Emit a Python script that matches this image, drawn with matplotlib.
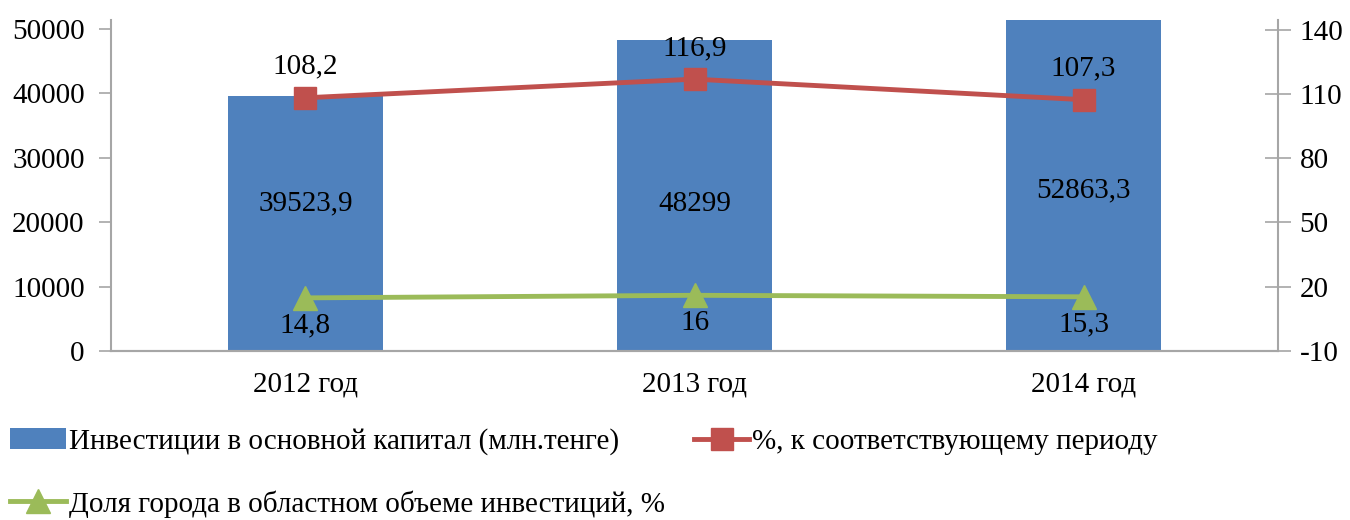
import matplotlib.pyplot as plt
import numpy as np

plt.rcParams['font.family'] = ['Liberation Serif', 'DejaVu Serif']
plt.rcParams['axes.unicode_minus'] = False

# data
years = ["2012 год", "2013 год", "2014 год"]
invest = [39523.9, 48299, 52863.3]
invest_lbl = ["39523,9", "48299", "52863,3"]
pct_period = [108.2, 116.9, 107.3]
pct_period_lbl = ["108,2", "116,9", "107,3"]
share = [14.8, 16, 15.3]
share_lbl = ["14,8", "16", "15,3"]

blue = "#4F81BD"
red = "#C0504D"
green = "#9BBB59"
grey = "#A6A6A6"

fig = plt.figure(figsize=(13.5, 5.2), dpi=100)
ax = fig.add_axes([0.0822, 0.325, 0.8645, 0.6365])
ax2 = ax.twinx()

x = np.arange(len(years))
bars = ax.bar(x, invest, width=0.4, color=blue, zorder=1,
              label="Инвестиции в основной капитал (млн.тенге)")
ax.set_xlim(-0.5, 2.5)
ax.set_ylim(0, 51400)
ax.set_yticks([0, 10000, 20000, 30000, 40000, 50000])

l1, = ax2.plot(x, pct_period, color=red, lw=3.5, marker="s", ms=16,
               label="%, к соответствующему периоду")
l2, = ax2.plot(x, share, color=green, lw=3.5, marker="^", ms=17,
               label="Доля города в областном объеме инвестиций, %")
ax2.set_ylim(-10, 144.5)
ax2.set_yticks([-10, 20, 50, 80, 110, 140])

# labels (offsets)
bar_lbl_y = [23000, 22800, 25000]
for i in range(3):
    ax.text(x[i], bar_lbl_y[i], invest_lbl[i], ha="center", va="center", fontsize=21)
    ax2.text(x[i], pct_period[i] + 14.5, pct_period_lbl[i], ha="center", va="center", fontsize=21)
    ax2.text(x[i], share[i] - 12.7, share_lbl[i], ha="center", va="center", fontsize=21)

for a in (ax, ax2):
    a.spines["top"].set_visible(False)
    for s in ("left", "right", "bottom"):
        a.spines[s].set_color(grey)
        a.spines[s].set_linewidth(1.5)
ax.spines["right"].set_visible(False)
ax2.spines["left"].set_visible(False)

ax.set_xticks(x)
ax.set_xticklabels(years)
ax.tick_params(axis="x", length=0, pad=15, labelsize=21)
ax.tick_params(axis="y", labelsize=21, color=grey, length=9, width=1.2, pad=10)
ax2.tick_params(axis="y", labelsize=21, color=grey, direction="inout", length=19, width=1.2, pad=6)

fig.legend(handles=[bars, l2, l1], loc="lower left", bbox_to_anchor=(-0.001, -0.018),
           ncol=2, frameon=False, fontsize=21, handlelength=1.9, handletextpad=0.1,
           columnspacing=1.0, labelspacing=1.2, borderaxespad=0)

fig.savefig("out.png", dpi=100)
